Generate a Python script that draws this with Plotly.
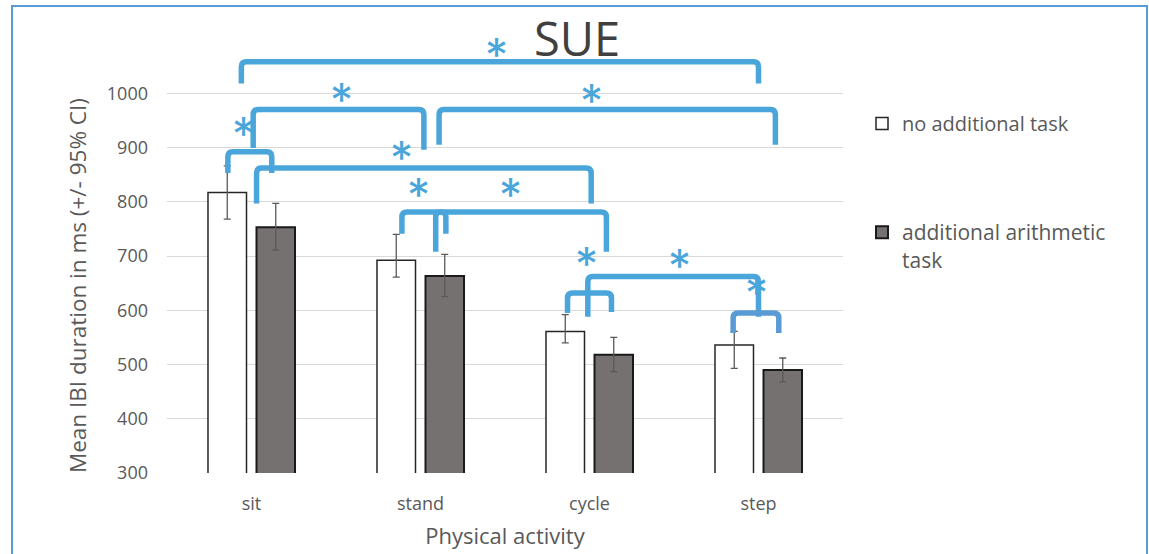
import plotly.graph_objects as go

# Mean inter-beat-interval per activity, with 95% CI half-widths (upper / lower)
categories = ["sit", "stand", "cycle", "step"]
no_task = [817, 692, 561, 536]
no_task_ci_up = [49, 48, 31, 25]
no_task_ci_down = [49, 31, 21, 43]
arithmetic = [753, 663, 518, 490]
arithmetic_ci_up = [44, 40, 32, 22]
arithmetic_ci_down = [42, 38, 31, 22]
y_ticks = [300, 400, 500, 600, 700, 800, 900, 1000]

# Significance brackets in axis units: left x, right x, bar level, left/right leg ends
bracket_x0 = [-0.06, 0.01, 1.11, -0.14, 0.03, 0.89, 1.09, 1.87, 1.99, 2.85]
bracket_x1 = [3.00, 1.02, 3.10, 0.12, 2.01, 1.15, 2.10, 2.13, 3.00, 3.12]
bracket_top = [1058, 970, 970, 892, 862, 781, 781, 632, 662, 595]
bracket_end0 = [1018, 899, 905, 853, 797, 741, 708, 595, 588, 558]
bracket_end1 = [1018, 896, 905, 853, 797, 741, 708, 597, 588, 558]
# Asterisk positions in axis units
star_x = [1.45, 0.53, 2.01, -0.05, 0.89, 0.99, 1.53, 1.98, 2.53, 2.99]
star_y = [1085, 1002, 1000, 940, 896, 827, 827, 700, 697, 647]

W, H = 1149, 554
ML, MR, MT, MB = 167, 306, 39, 81
PW, PH = W - ML - MR, H - MT - MB
X_RANGE = [-0.5, 3.5]
Y_RANGE = [300, 1100]
KX = PW / (X_RANGE[1] - X_RANGE[0])
KY = PH / (Y_RANGE[1] - Y_RANGE[0])

BLUE = "#4AA6DA"
BLUE_ALT = "#5B9BD5"
TEXT = "#595959"
FONT = "Open Sans"


def bracket_path(x0, x1, top, e0, e1, r=5):
    rx, ry = r / KX, r / KY
    return (f"M{x0},{e0} L{x0},{top - ry} Q{x0},{top} {x0 + rx},{top} "
            f"L{x1 - rx},{top} Q{x1},{top} {x1},{top - ry} L{x1},{e1}")


xs = list(range(len(categories)))

fig = go.Figure()
fig.add_trace(go.Bar(
    x=xs, y=no_task, name="no additional task",
    marker=dict(color="white", line=dict(color="#262626", width=1.5)),
    error_y=dict(type="data", symmetric=False, array=no_task_ci_up,
                 arrayminus=no_task_ci_down, color="#595959", thickness=1.3, width=3.5),
    legend="legend",
))
fig.add_trace(go.Bar(
    x=xs, y=arithmetic, name="additional arithmetic<br>task",
    marker=dict(color="#767171", line=dict(color="#1A1A1A", width=2)),
    error_y=dict(type="data", symmetric=False, array=arithmetic_ci_up,
                 arrayminus=arithmetic_ci_down, color="#595959", thickness=1.3, width=3.5),
    legend="legend2",
))

shapes = []
for i in range(len(bracket_x0)):
    shapes.append(dict(
        type="path", xref="x", yref="y",
        path=bracket_path(bracket_x0[i], bracket_x1[i], bracket_top[i],
                          bracket_end0[i], bracket_end1[i]),
        line=dict(color=BLUE_ALT if i == len(bracket_x0) - 1 else BLUE, width=5.5),
        layer="above",
    ))
# outer frame
shapes.append(dict(type="rect", xref="paper", yref="paper",
                   x0=(12 - ML) / PW, x1=(1147 - ML) / PW,
                   y0=-0.3, y1=(H - MB - 6) / PH,
                   line=dict(color="#5B9BD5", width=2), fillcolor="rgba(0,0,0,0)"))

annotations = [dict(x=sx, y=sy, xref="x", yref="y", text="*", showarrow=False,
                    font=dict(family="Inter", size=46, color=BLUE),
                    xanchor="center", yanchor="middle", yshift=-8)
               for sx, sy in zip(star_x, star_y)]
# value-axis title, centred on the 300-1000 span
annotations.append(dict(
    text="Mean IBI duration in ms (+/- 95% CI)", textangle=-90, showarrow=False,
    xref="paper", yref="paper", x=(77 - ML) / PW, y=(H - MB - 285) / PH,
    xanchor="center", yanchor="middle",
    font=dict(family=FONT, size=22.5, color=TEXT)))

fig.update_layout(
    width=W, height=H,
    margin=dict(l=ML, r=MR, t=MT, b=MB, autoexpand=False),
    paper_bgcolor="white", plot_bgcolor="white",
    barmode="group", bargap=0.426, bargroupgap=0.206,
    title=dict(text="SUE", x=577 / W, xanchor="center", y=1 - 40 / H, yanchor="middle",
               font=dict(family=FONT, size=47, color="#404040")),
    xaxis=dict(range=X_RANGE, tickvals=xs, ticktext=categories, showgrid=False,
               zeroline=False, ticks="", ticklabelstandoff=18, automargin=False,
               tickfont=dict(family=FONT, size=18, color=TEXT),
               title=dict(text="Physical activity", standoff=14,
                          font=dict(family=FONT, size=22, color=TEXT))),
    yaxis=dict(range=Y_RANGE, tickvals=y_ticks, showgrid=True, gridcolor="#D9D9D9",
               gridwidth=1, zeroline=False, ticks="", ticklabelstandoff=18, automargin=False,
               tickfont=dict(family=FONT, size=18, color=TEXT)),
    legend=dict(x=(862 - ML) / PW, xanchor="left",
                y=(H - MB - 104) / PH, yanchor="top",
                font=dict(family=FONT, size=20, color=TEXT), bgcolor="rgba(0,0,0,0)"),
    legend2=dict(x=(862 - ML) / PW, xanchor="left",
                 y=(H - MB - 212) / PH, yanchor="top", valign="top",
                 font=dict(family=FONT, size=21, color=TEXT), bgcolor="rgba(0,0,0,0)"),
    showlegend=True,
    shapes=shapes,
    annotations=annotations,
)

fig.write_html("out.html")
